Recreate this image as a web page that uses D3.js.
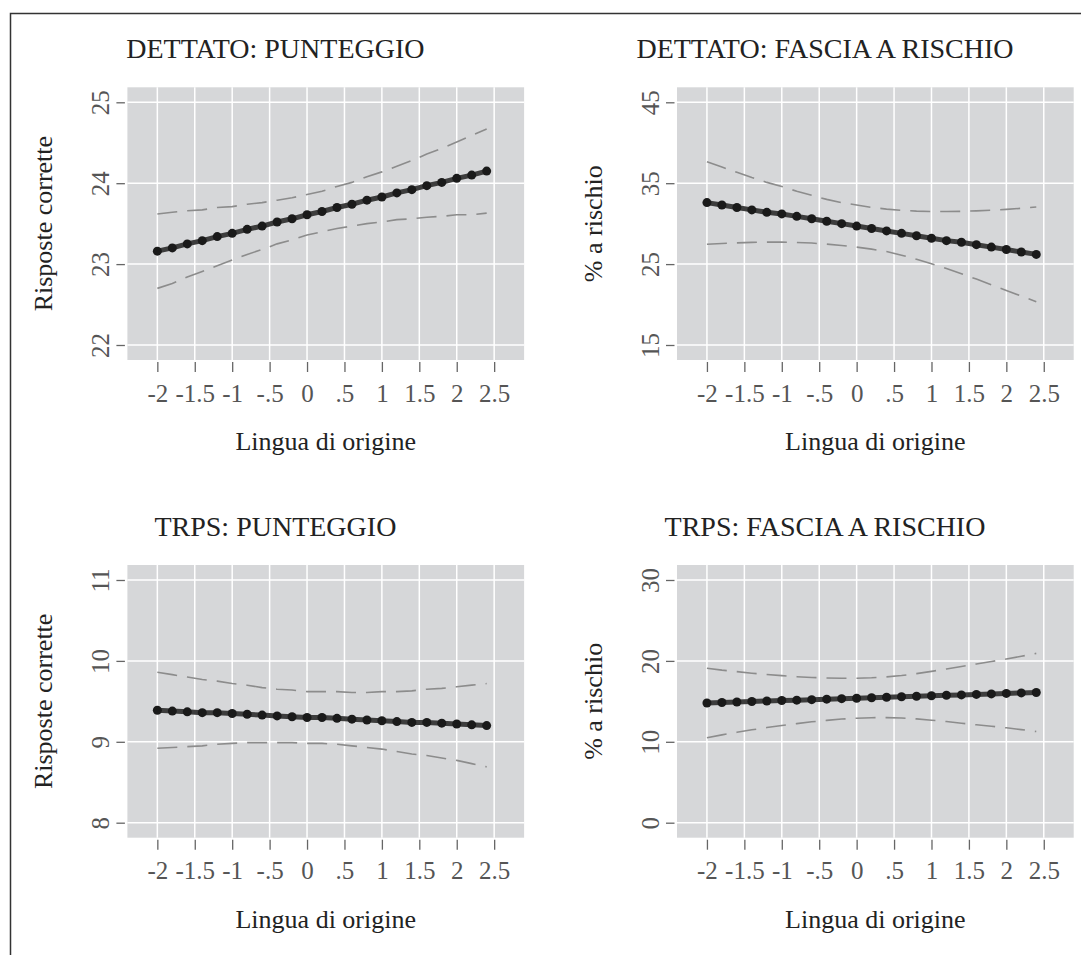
<!DOCTYPE html>
<html lang="it">
<head>
<meta charset="utf-8">
<title>Lingua di origine</title>
<script src="https://cdn.jsdelivr.net/npm/d3@7/dist/d3.min.js"></script>
<style>
	body { margin: 0; background: white; }
	svg { display: block; }
	text { font-family: "Liberation Serif", "Times New Roman", serif; }
	.tick line { stroke: #666; stroke-width: 1.3; }
	.tick text { fill: #555; font-size: 25px; }
	.domain { display: none; }
</style>
</head>
<body>
<svg id="chart" width="1081" height="955"></svg>
<script>
// values, 23 predicted points from -2 to 2.4
var xValues = [-2, -1.8, -1.6, -1.4, -1.2, -1, -0.8, -0.6, -0.4, -0.2, 0, 0.2, 0.4, 0.6, 0.8, 1, 1.2, 1.4, 1.6, 1.8, 2, 2.2, 2.4]
var xTicks = [-2, -1.5, -1, -0.5, 0, 0.5, 1, 1.5, 2, 2.5]
var xTickLabels = ["-2", "-1.5", "-1", "-.5", "0", ".5", "1", "1.5", "2", "2.5"]

var panelTitles = ["DETTATO: PUNTEGGIO", "DETTATO: FASCIA A RISCHIO", "TRPS: PUNTEGGIO", "TRPS: FASCIA A RISCHIO"]
var yTitles = ["Risposte corrette", "% a rischio", "Risposte corrette", "% a rischio"]
var yTicks = [[22, 23, 24, 25], [15, 25, 35, 45], [8, 9, 10, 11], [0, 10, 20, 30]]

// DETTATO: PUNTEGGIO
var dettatoPuntFit = [23.16, 23.20, 23.25, 23.29, 23.34, 23.38, 23.43, 23.47, 23.52, 23.56, 23.61, 23.65, 23.70, 23.74, 23.79, 23.83, 23.88, 23.92, 23.97, 24.01, 24.06, 24.10, 24.15]
var dettatoPuntHi = [23.62, 23.64, 23.66, 23.67, 23.70, 23.71, 23.74, 23.76, 23.79, 23.82, 23.86, 23.90, 23.96, 24.01, 24.08, 24.14, 24.21, 24.28, 24.36, 24.43, 24.51, 24.59, 24.67]
var dettatoPuntLo = [22.70, 22.76, 22.84, 22.91, 22.98, 23.05, 23.12, 23.18, 23.25, 23.30, 23.36, 23.40, 23.44, 23.47, 23.50, 23.52, 23.55, 23.56, 23.58, 23.59, 23.61, 23.61, 23.63]
// DETTATO: FASCIA A RISCHIO
var dettatoRiscFit = [32.6, 32.3, 32.0, 31.7, 31.4, 31.2, 30.9, 30.6, 30.3, 30.0, 29.7, 29.4, 29.1, 28.8, 28.5, 28.2, 27.9, 27.7, 27.4, 27.1, 26.8, 26.5, 26.2]
var dettatoRiscHi = [37.65, 37.0, 36.35, 35.7, 35.1, 34.6, 34.0, 33.5, 33.0, 32.6, 32.3, 32.0, 31.8, 31.65, 31.55, 31.5, 31.5, 31.52, 31.58, 31.66, 31.76, 31.9, 32.05]
var dettatoRiscLo = [27.45, 27.55, 27.62, 27.68, 27.72, 27.72, 27.68, 27.6, 27.47, 27.3, 27.1, 26.85, 26.55, 26.1, 25.6, 25.05, 24.45, 23.8, 23.15, 22.45, 21.75, 21.05, 20.35]
// TRPS: PUNTEGGIO
var trpsPuntFit = [9.39, 9.38, 9.37, 9.36, 9.36, 9.35, 9.34, 9.33, 9.32, 9.31, 9.30, 9.30, 9.29, 9.28, 9.27, 9.26, 9.25, 9.24, 9.24, 9.23, 9.22, 9.21, 9.20]
var trpsPuntHi = [9.86, 9.83, 9.80, 9.77, 9.75, 9.72, 9.70, 9.67, 9.65, 9.64, 9.62, 9.62, 9.62, 9.61, 9.61, 9.62, 9.62, 9.63, 9.65, 9.66, 9.68, 9.70, 9.72]
var trpsPuntLo = [8.92, 8.93, 8.94, 8.95, 8.97, 8.98, 8.99, 8.99, 8.99, 8.99, 8.98, 8.98, 8.97, 8.95, 8.93, 8.91, 8.88, 8.85, 8.83, 8.80, 8.77, 8.73, 8.69]
// TRPS: FASCIA A RISCHIO
var trpsRiscFit = [14.80, 14.86, 14.92, 14.98, 15.04, 15.10, 15.15, 15.21, 15.27, 15.33, 15.39, 15.45, 15.51, 15.57, 15.63, 15.69, 15.75, 15.80, 15.86, 15.92, 15.98, 16.04, 16.10]
var trpsRiscHi = [19.10, 18.86, 18.67, 18.48, 18.32, 18.18, 18.05, 17.95, 17.89, 17.85, 17.86, 17.92, 18.03, 18.19, 18.43, 18.71, 19.00, 19.30, 19.62, 19.92, 20.23, 20.57, 20.93]
var trpsRiscLo = [10.50, 10.86, 11.17, 11.48, 11.76, 12.02, 12.25, 12.47, 12.65, 12.81, 12.92, 12.98, 12.99, 12.95, 12.83, 12.67, 12.50, 12.30, 12.10, 11.92, 11.73, 11.51, 11.27]

var fits = [dettatoPuntFit, dettatoRiscFit, trpsPuntFit, trpsRiscFit]
var his = [dettatoPuntHi, dettatoRiscHi, trpsPuntHi, trpsRiscHi]
var los = [dettatoPuntLo, dettatoRiscLo, trpsPuntLo, trpsRiscLo]

var svg = d3.select("#chart")

// frame: only left and top edges are in the picture
svg.append("path").attr("d", "M10.5,960V13.5H1090")
	.attr("fill", "none").attr("stroke", "#333").attr("stroke-width", 1.5)

var panelW = 396.7, panelH = 272.7, pad = 15
var lefts = [127.4, 677, 127.4, 677]
var tops = [87.3, 87.3, 565, 565]

function drawPanel(i) {
	var left = lefts[i], top = tops[i]
	var t = yTicks[i]
	var x = d3.scaleLinear().domain([-2.4, 2.9]).range([left, left + panelW])
	var y = d3.scaleLinear().domain([t[0], t[t.length - 1]]).range([top + panelH - pad, top + pad])
	var g = svg.append("g")

	g.append("rect").attr("x", left).attr("y", top).attr("width", panelW).attr("height", panelH)
		.attr("fill", "#d6d7d9")
	g.selectAll(".vgrid").data(xTicks).enter().append("line")
		.attr("x1", d => x(d)).attr("x2", d => x(d)).attr("y1", top).attr("y2", top + panelH)
		.attr("stroke", "white").attr("stroke-width", 1.5)
	g.selectAll(".hgrid").data(t).enter().append("line")
		.attr("x1", left).attr("x2", left + panelW).attr("y1", d => y(d)).attr("y2", d => y(d))
		.attr("stroke", "white").attr("stroke-width", 1.5)

	// axes
	g.append("g").attr("transform", "translate(0," + (top + panelH + 2) + ")")
		.call(d3.axisBottom(x).tickValues(xTicks).tickFormat((d, k) => xTickLabels[k]).tickSize(10).tickPadding(12))
	var ya = g.append("g").attr("transform", "translate(" + (left - 2.5) + ",0)")
		.call(d3.axisLeft(y).tickValues(t).tickFormat(d3.format("d")).tickSize(8.5))
	ya.selectAll(".tick text")
		.attr("x", 0).attr("dy", 0).attr("text-anchor", "middle")
		.attr("transform", "translate(-16,0) rotate(-90)")

	// confidence bounds
	var line = d3.line().x((d, k) => x(xValues[k])).y(d => y(d))
	;[his[i], los[i]].forEach(function(s) {
		g.append("path").datum(s).attr("d", line)
			.attr("fill", "none").attr("stroke", "#8c8c8c").attr("stroke-width", 1.6)
			.attr("stroke-dasharray", "20,10")
	})
	// fitted line + markers
	g.append("path").datum(fits[i]).attr("d", line)
		.attr("fill", "none").attr("stroke", "#3d3d3d").attr("stroke-width", 5)
	g.selectAll(".pt").data(fits[i]).enter().append("circle")
		.attr("cx", (d, k) => x(xValues[k])).attr("cy", d => y(d)).attr("r", 4.5)
		.attr("fill", "#1a1a1a")

	// texts
	g.append("text").attr("x", left + 148).attr("y", top - 29).attr("text-anchor", "middle")
		.style("font-size", "28px").attr("fill", "#222").text(panelTitles[i])
	g.append("text").attr("x", left + panelW / 2).attr("y", top + panelH + 90).attr("text-anchor", "middle")
		.style("font-size", "26px").attr("fill", "#222").text("Lingua di origine")
	g.append("text").attr("transform", "translate(" + (left - 75.5) + "," + (top + panelH / 2) + ") rotate(-90)")
		.attr("text-anchor", "middle").style("font-size", "26px").attr("fill", "#222").text(yTitles[i])
}

for (var i = 0; i < 4; i++) drawPanel(i)
</script>
</body>
</html>
